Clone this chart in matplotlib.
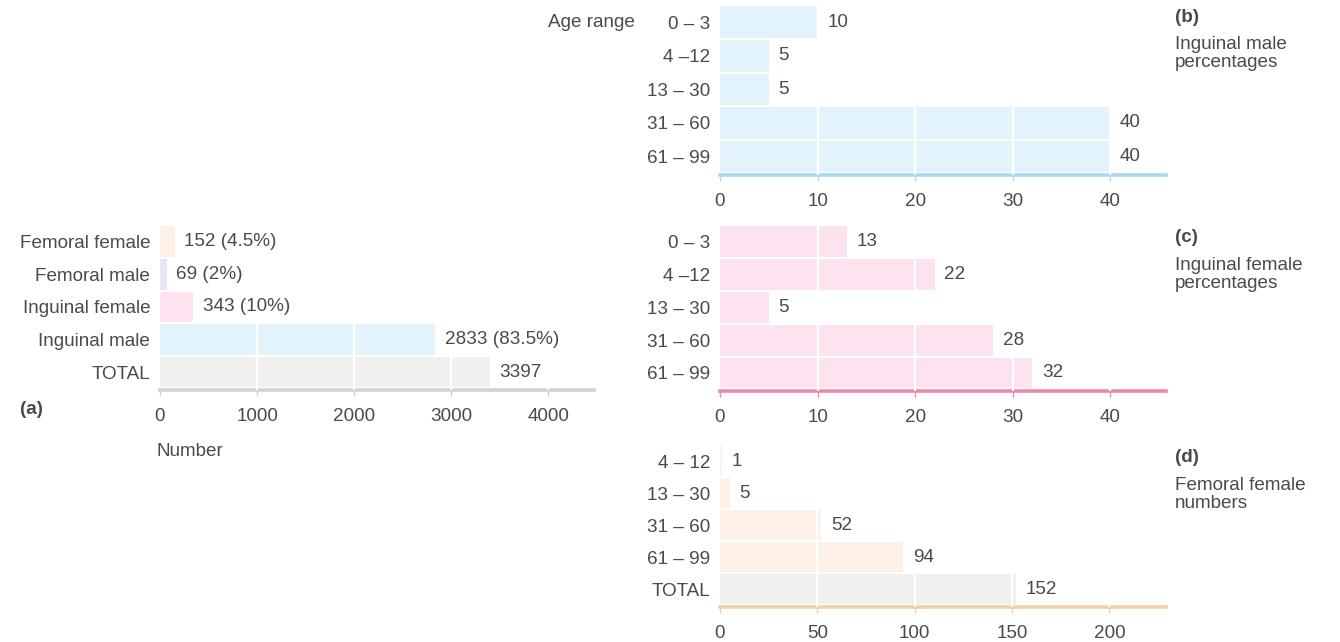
import matplotlib.pyplot as plt
import numpy as np

plt.rcParams['font.family'] = ['Liberation Sans', 'DejaVu Sans']

# (a) hernia counts
a_labels = ['Femoral female', 'Femoral male', 'Inguinal female', 'Inguinal male', 'TOTAL']
a_values = [152, 69, 343, 2833, 3397]
a_text = ['152 (4.5%)', '69 (2%)', '343 (10%)', '2833 (83.5%)', '3397']

# (b) inguinal male percentages
ages = ['0 – 3', '4 –12', '13 – 30', '31 – 60', '61 – 99']
b_values = [10, 5, 5, 40, 40]

# (c) inguinal female percentages
c_values = [13, 22, 5, 28, 32]

# (d) femoral female numbers
d_labels = ['4 – 12', '13 – 30', '31 – 60', '61 – 99', 'TOTAL']
d_values = [1, 5, 52, 94, 152]

TXT = '#4a4a4a'
FS = 13.6

fig = plt.figure(figsize=(13.4, 6.42), dpi=100)


def panel(rect, labels, values, colors, spine_col, xmax, ticks, texts=None):
    ax = fig.add_axes(rect)
    y = np.arange(len(values))
    bars = ax.barh(y, values, height=0.94, color=colors, zorder=1)
    ax.set_yticks(y)
    ax.set_yticklabels(labels)
    ax.set_ylim(len(values) - 0.45, -0.48)
    ax.set_xlim(0, xmax)
    ax.set_xticks(ticks)
    ax.set_xticklabels([str(t) for t in ticks])
    for t in ticks[1:]:
        ax.axvline(t, color='white', lw=1.6, zorder=3)
    for s in ['top', 'right', 'left']:
        ax.spines[s].set_visible(False)
    ax.spines['bottom'].set_color(spine_col)
    ax.spines['bottom'].set_linewidth(2.6)
    ax.tick_params(axis='y', length=0, pad=7, labelsize=FS, labelcolor=TXT)
    ax.tick_params(axis='x', length=4, width=1, color=spine_col, pad=9,
                   labelsize=FS, labelcolor=TXT)
    if texts is None:
        texts = [str(v) for v in values]
    ax.bar_label(bars, labels=texts, padding=7, fontsize=FS, color=TXT)
    ax.set_facecolor('none')
    return ax


BLUE = '#e3f3fc'
PINK = '#fde2ef'
PEACH = '#fdf0e6'
LAV = '#e8e6f3'
GREY = '#f0f0f0'

ax_a = panel([0.1194, 0.3925, 0.3239, 0.2555], a_labels, a_values,
             [PEACH, LAV, PINK, BLUE, GREY], '#d2d2d2', 4470,
             [0, 1000, 2000, 3000, 4000], a_text)
ax_b = panel([0.5373, 0.7274, 0.3328, 0.2632], ages, b_values,
             [BLUE] * 5, '#a9d9ef', 45.7, [0, 10, 20, 30, 40])
ax_c = panel([0.5373, 0.3910, 0.3328, 0.2570], ages, c_values,
             [PINK] * 5, '#e98aab', 45.7, [0, 10, 20, 30, 40])
ax_d = panel([0.5373, 0.0545, 0.3328, 0.2508], d_labels, d_values,
             [PEACH] * 4 + ['#f1f0f0'], '#f2cfa6', 229, [0, 50, 100, 150, 200])

ax_b.text(-0.19, 0, 'Age range', transform=ax_b.get_yaxis_transform(),
          ha='right', va='center', fontsize=FS, color=TXT)

fig.text(0.015, 1 - 410 / 642, '(a)', fontsize=FS, color=TXT, weight='bold', va='center')
fig.text(0.117, 1 - 451 / 642, 'Number', fontsize=FS, color=TXT, va='center')

side = [(17, '(b)', 'Inguinal male\npercentages'),
        (238, '(c)', 'Inguinal female\npercentages'),
        (458, '(d)', 'Femoral female\nnumbers')]
for ypix, tag, desc in side:
    fig.text(0.8765, 1 - ypix / 642, tag, fontsize=FS, color=TXT, weight='bold', va='center')
    fig.text(0.8765, 1 - (ypix + 19) / 642, desc, fontsize=FS, color=TXT, va='top',
             linespacing=1.08)

fig.savefig('out.png', dpi=100, facecolor='white')
